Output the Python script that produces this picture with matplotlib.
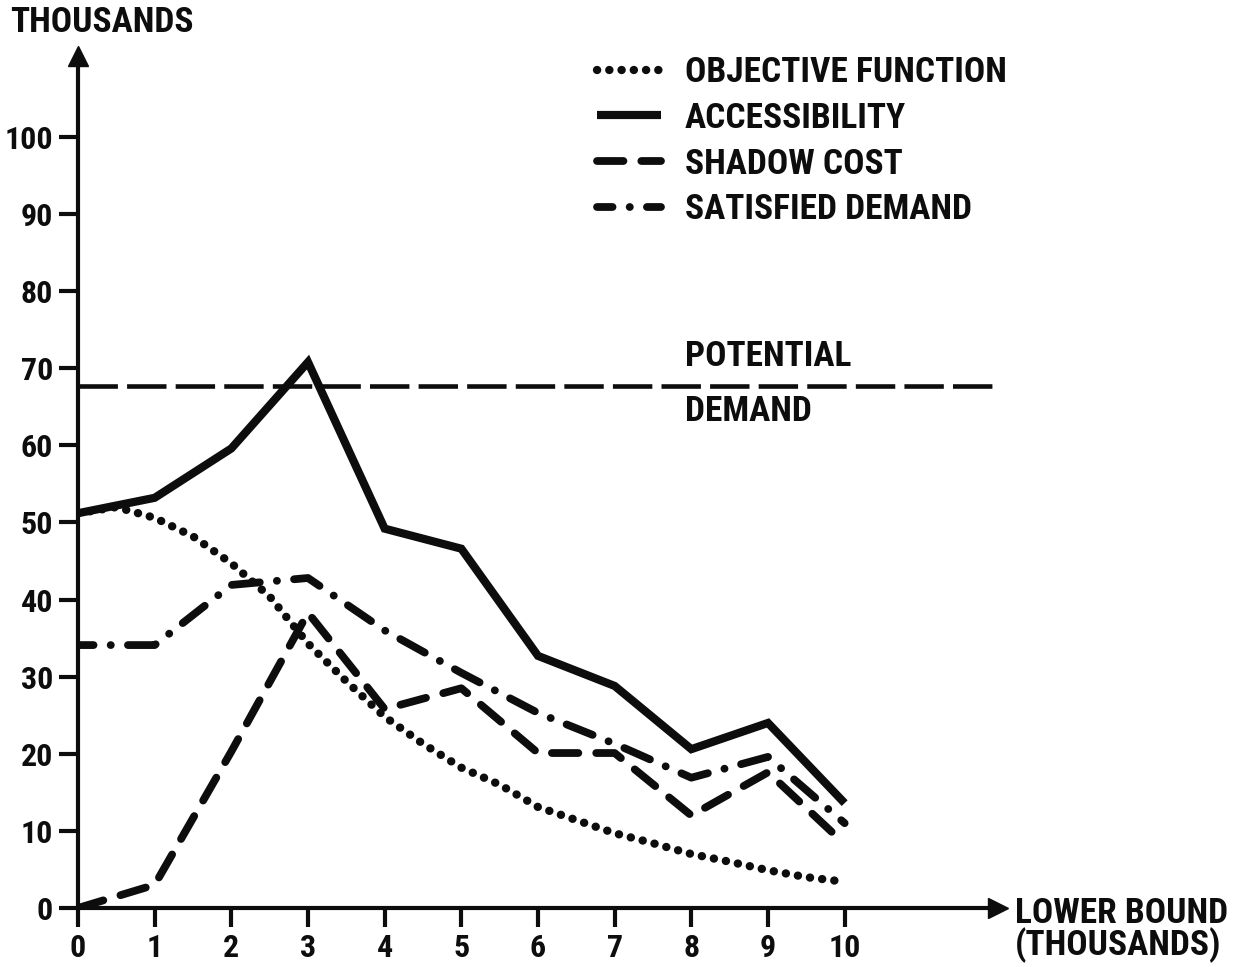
import matplotlib
matplotlib.use("Agg")
import matplotlib.pyplot as plt
from matplotlib.lines import Line2D

plt.rcParams['font.family'] = ['Roboto Condensed', 'Asap Condensed', 'Liberation Sans', 'DejaVu Sans']
plt.rcParams['font.weight'] = 'bold'

# Lower bound (thousands)
lower_bound = [0, 1, 2, 3, 4, 5, 6, 7, 8, 9, 10]
accessibility = [51.2, 53.2, 59.6, 70.8, 49.2, 46.6, 32.7, 28.8, 20.6, 24.0, 13.6]
shadow_cost = [0.0, 3.0, 20.3, 38.3, 25.8, 28.5, 20.1, 20.1, 12.0, 17.6, 8.3]
satisfied_demand = [34.1, 34.1, 41.9, 42.8, 36.0, 30.5, 25.3, 21.3, 16.9, 19.6, 11.0]

# Objective function is a smooth curve, read at half steps
objective_x = [0, 0.5, 1, 1.5, 2, 2.5, 3, 3.5, 4, 4.5, 5,
               5.5, 6, 6.5, 7, 7.5, 8, 8.5, 9, 9.5, 10]
objective = [51.2, 52.0, 50.6, 48.2, 44.7, 40.4, 34.3, 29.4, 24.8, 21.3, 18.2,
             16.0, 13.1, 11.4, 9.7, 8.4, 7.0, 6.0, 4.9, 4.0, 3.4]

potential_demand = 67.7

x_ticks = list(range(0, 11))
y_ticks = list(range(0, 101, 10))

W, H = 1249, 967
fig = plt.figure(figsize=(W / 100, H / 100), dpi=100)
fig.patch.set_facecolor('white')
ax = fig.add_axes([78 / W, 59 / H, (998 - 78) / W, (908 - 56) / H])
ax.set_xlim(0, 12)
ax.set_ylim(0, 110.5)

ink = '#0d0d0d'
label_size = 25.5

for side in ('top', 'right'):
    ax.spines[side].set_visible(False)
for side in ('left', 'bottom'):
    ax.spines[side].set_linewidth(3)
    ax.spines[side].set_color(ink)

# axis arrow heads
ax.plot(1, 0, marker='>', color=ink, ms=15, transform=ax.transAxes, clip_on=False)
ax.plot(0, 1, marker='^', color=ink, ms=15, transform=ax.transAxes, clip_on=False)

ax.set_xticks(x_ticks)
ax.set_yticks(y_ticks)
ax.tick_params(direction='out', length=14, width=3, color=ink,
               labelsize=23, labelcolor=ink, pad=4)
for lab in ax.get_xticklabels() + ax.get_yticklabels():
    lab.set_fontweight('bold')

lw = 5.6
obj_style = dict(color=ink, lw=lw + 0.4, linestyle=(0, (0.02, 1.45)),
                 dash_capstyle='round')
acc_style = dict(color=ink, lw=lw + 0.3, linestyle='-', solid_joinstyle='miter',
                 solid_capstyle='butt')
shadow_style = dict(color=ink, lw=lw, linestyle=(0, (3.4, 2.3)),
                    dash_capstyle='round', dash_joinstyle='round')
sat_style = dict(color=ink, lw=lw, linestyle=(1.6, (3.6, 2.2, 0.02, 2.2)),
                 dash_capstyle='round', dash_joinstyle='round')

ax.axhline(potential_demand, color=ink, lw=3.3, linestyle=(0, (8.6, 2.0)),
           dash_capstyle='butt', clip_on=False)

ax.plot(objective_x, objective, **obj_style, zorder=3)
ax.plot(lower_bound, shadow_cost, **shadow_style, zorder=4)
ax.plot(lower_bound, satisfied_demand, **sat_style, zorder=4)
ax.plot(lower_bound, accessibility, **acc_style, zorder=5)

ax.text(7.92, potential_demand + 3.8, 'POTENTIAL', fontsize=label_size,
        fontweight='bold', ha='left', va='center', color=ink)
ax.text(7.92, potential_demand - 3.3, 'DEMAND', fontsize=label_size,
        fontweight='bold', ha='left', va='center', color=ink)

handles = [Line2D([], [], **obj_style), Line2D([], [], **acc_style),
           Line2D([], [], **shadow_style), Line2D([], [], **sat_style)]
labels = ['OBJECTIVE FUNCTION', 'ACCESSIBILITY', 'SHADOW COST', 'SATISFIED DEMAND']
leg = ax.legend(handles, labels, loc='upper left',
                bbox_to_anchor=(597 / W, 1 - 56 / H), bbox_transform=fig.transFigure,
                frameon=False, handlelength=1.8, handletextpad=0.68,
                labelspacing=0.36, borderpad=0, borderaxespad=0,
                prop={'size': label_size, 'weight': 'bold'})
for t in leg.get_texts():
    t.set_color(ink)

fig.text(10 / W, 1 - 23 / H, 'THOUSANDS', fontsize=label_size, fontweight='bold',
         ha='left', va='center', color=ink)
fig.text(1015 / W, 1 - 930 / H, 'LOWER BOUND\n(THOUSANDS)', fontsize=label_size,
         fontweight='bold', ha='left', va='center', color=ink, linespacing=0.92)

fig.savefig('out.png', dpi=100, facecolor='white')
